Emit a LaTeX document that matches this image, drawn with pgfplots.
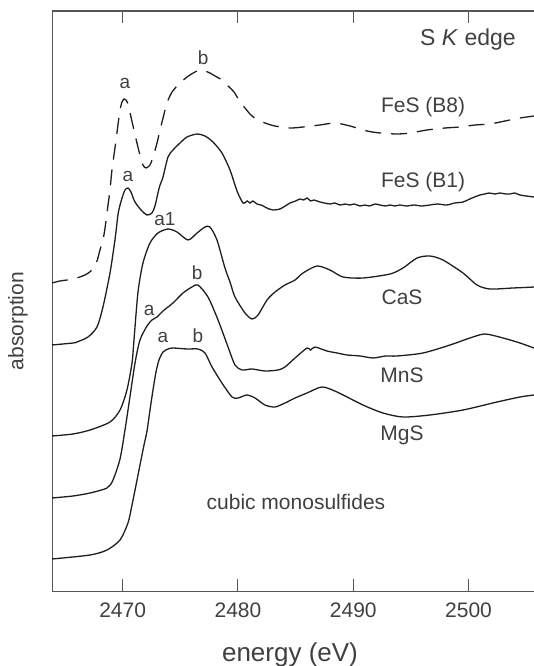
\documentclass[border=0pt]{standalone}
\usepackage{pgfplots}
\pgfplotsset{compat=1.18}
\usepackage{fontspec}
\setmainfont{Liberation Sans}
\definecolor{txt}{HTML}{404040}
\definecolor{crv}{HTML}{1E1E1E}
\definecolor{axc}{HTML}{555555}
\newcommand{\fs}[1]{\fontsize{#1}{#1}\selectfont}
\pgfplotsset{spec/.style={crv, line width=1.3bp, no marks, smooth, tension=0.45}}
\begin{document}
\begin{tikzpicture}
\path[use as bounding box] (0,0) rectangle (534bp,666bp);
\begin{axis}[
  at={(52bp,75bp)}, anchor=south west,
  scale only axis, width=490bp, height=580bp,
  xmin=2463.87, xmax=2506.37, ymin=0, ymax=580,
  axis line style={draw=axc, line width=1bp},
  xtick={2470,2480,2490,2500},
  xticklabels={2470,2480,2490,2500},
  ytick=\empty,
  tick align=inside, major tick length=12bp,
  tick style={draw=axc, line width=1bp},
  xticklabel style={font=\fs{21bp}, text=txt, yshift=-8bp},
  xlabel={energy (eV)},
  xlabel style={font=\fs{26bp}, text=txt, at={(axis description cs:0.4857,-0.1103)}, anchor=center},
  ylabel={absorption},
  ylabel style={font=\fs{21bp}, text=txt, at={(axis description cs:-0.0694,0.4655)}, anchor=center},
  clip=false,
]
% FeS (B8)
\addplot[spec, dash pattern=on 16bp off 10bp] coordinates {
(2463.87,308) (2464.56,310) (2465.69,312) (2466.73,316) (2467.34,321) (2467.77,330)
(2468.03,341) (2468.29,351) (2468.47,363) (2468.73,386) (2468.90,401) (2469.07,421)
(2469.33,443) (2469.59,466) (2469.77,481) (2469.94,489) (2470.12,492) (2470.29,491)
(2470.46,487) (2470.72,474) (2470.98,461) (2471.24,448) (2471.50,436) (2471.76,426)
(2472.02,423) (2472.37,426) (2472.63,434) (2472.98,448) (2473.24,461) (2473.50,473)
(2473.84,488) (2474.28,499) (2474.80,506) (2475.58,514) (2476.27,519) (2476.71,521)
(2477.14,520) (2477.57,518) (2478.01,515) (2478.61,511) (2479.14,505) (2479.66,499)
(2480.18,489) (2480.61,483) (2481.04,477) (2481.56,472) (2482.34,468) (2483.21,465)
(2484.51,463) (2485.64,464) (2487.11,466) (2488.42,468) (2489.72,465) (2491.19,460)
(2492.32,458) (2493.79,457) (2494.92,458) (2496.39,461) (2497.96,463) (2499.26,464)
(2500.56,466) (2501.86,467) (2503.16,470) (2504.46,473) (2505.67,475) (2506.37,476)
};
% FeS (B1)
\addplot[spec] coordinates {
(2463.87,246) (2465.69,248) (2466.04,249) (2466.99,254) (2467.77,264) (2468.29,284)
(2468.90,318) (2469.33,351) (2469.59,376) (2469.77,386) (2470.03,396) (2470.20,401)
(2470.46,403) (2470.72,399) (2470.98,391) (2471.24,386) (2471.68,380) (2472.11,376)
(2472.54,378) (2472.80,385) (2473.06,398) (2473.24,406) (2473.50,414) (2473.93,434)
(2474.36,441) (2474.97,448) (2475.58,454) (2476.45,457) (2477.14,455) (2477.83,449)
(2478.61,438) (2479.31,421) (2479.92,400) (2480.44,388) (2480.80,390) (2481.04,388)
(2481.30,390) (2481.65,387) (2482.00,386) (2482.34,384) (2482.70,382) (2483.04,381)
(2483.64,382) (2484.10,385) (2484.51,388) (2485.00,390) (2485.38,392) (2485.70,391)
(2485.99,393) (2486.30,390) (2486.60,391) (2487.11,389) (2487.50,388) (2488.00,387)
(2488.40,388) (2488.85,386) (2489.30,387) (2489.70,386) (2490.10,387) (2490.58,385)
(2491.00,386) (2491.40,385) (2491.90,387) (2492.32,386) (2492.80,385) (2493.20,386)
(2493.60,385) (2494.05,386) (2494.60,385) (2495.30,386) (2495.90,385) (2496.65,386)
(2497.30,387) (2498.10,386) (2498.80,388) (2499.52,389) (2500.30,393) (2500.99,396)
(2501.40,397) (2501.80,398) (2502.30,397) (2502.73,398) (2503.20,397) (2503.60,397)
(2504.00,398) (2504.46,396) (2505.00,395) (2505.67,394) (2506.37,393)
};
% CaS
\addplot[spec] coordinates {
(2463.87,155) (2465.69,157) (2467.17,161) (2468.90,169) (2469.77,181) (2470.37,201)
(2470.81,228) (2470.98,251) (2471.33,299) (2471.76,328) (2472.37,348) (2473.06,358)
(2473.93,362) (2474.71,359) (2475.67,351) (2476.45,358) (2477.14,364) (2477.57,364)
(2478.18,351) (2478.87,323) (2479.31,309) (2479.74,294) (2480.61,278) (2481.22,272)
(2481.74,276) (2482.52,291) (2483.21,299) (2484.08,306) (2484.95,311) (2485.64,318)
(2486.85,325) (2487.98,321) (2489.11,314) (2490.84,313) (2493.19,317) (2494.31,323)
(2495.53,333) (2496.65,335) (2497.78,331) (2499.52,318) (2500.73,306) (2501.86,302)
(2503.85,303) (2505.67,304) (2506.37,305)
};
% MnS
\addplot[spec] coordinates {
(2463.87,93) (2465.69,95) (2467.17,98) (2468.64,103) (2469.16,111) (2469.77,132)
(2470.20,161) (2470.63,194) (2471.07,228) (2471.50,251) (2472.11,265) (2472.54,271)
(2472.98,274) (2473.50,280) (2474.36,288) (2475.23,298) (2476.01,304) (2476.53,306)
(2477.40,294) (2478.27,271) (2479.14,244) (2479.74,226) (2480.35,221) (2481.22,222)
(2482.34,220) (2483.47,221) (2484.08,224) (2484.95,233) (2485.99,243) (2486.30,241)
(2486.68,244) (2487.72,240) (2488.60,238) (2489.46,236) (2490.60,235) (2491.71,233)
(2492.80,235) (2493.79,235) (2496.05,238) (2498.39,246) (2500.12,253) (2501.42,257)
(2502.99,253) (2504.46,248) (2505.67,243) (2506.37,240)
};
% MgS
\addplot[spec] coordinates {
(2463.87,32) (2467.17,36) (2468.64,41) (2469.77,51) (2470.46,68) (2470.81,86)
(2471.16,106) (2471.50,126) (2471.85,146) (2472.11,160) (2472.37,181) (2472.63,201)
(2472.89,219) (2473.15,231) (2473.50,239) (2473.93,242) (2474.36,243) (2475.58,242)
(2476.53,242) (2477.14,238) (2477.75,224) (2478.61,208) (2479.48,194) (2480.00,193)
(2480.78,196) (2481.48,193) (2482.34,186) (2483.21,184) (2484.08,188) (2484.95,193)
(2485.99,198) (2487.29,204) (2488.59,199) (2490.84,186) (2492.58,178) (2494.31,174)
(2496.65,176) (2499.52,181) (2502.47,189) (2504.46,194) (2505.67,196) (2506.37,197)
};
% top axis line and ticks
\draw[axc, line width=1.2bp] (rel axis cs:0,1) -- (rel axis cs:1,1);
\draw[axc, line width=1bp] (axis cs:2470,580) -- (axis cs:2470,568);
\draw[axc, line width=1bp] (axis cs:2480,580) -- (axis cs:2480,568);
\draw[axc, line width=1bp] (axis cs:2490,580) -- (axis cs:2490,568);
\draw[axc, line width=1bp] (axis cs:2500,580) -- (axis cs:2500,568);
% peak labels
\begin{scope}[every node/.style={font=\fs{19bp}, text=txt, inner sep=0pt}]
\node at (axis cs:2470.20,508) {a};
\node at (axis cs:2476.97,533) {b};
\node at (axis cs:2470.46,415) {a};
\node at (axis cs:2473.67,372) {a1};
\node at (axis cs:2472.30,281) {a};
\node at (axis cs:2476.45,318) {b};
\node at (axis cs:2473.50,254) {a};
\node at (axis cs:2476.53,255) {b};
\end{scope}
\begin{scope}[every node/.style={font=\fs{21bp}, text=txt, inner sep=0pt}]
\node at (axis cs:2496.05,484) {FeS (B8)};
\node at (axis cs:2496.05,409) {FeS (B1)};
\node at (axis cs:2494.23,294) {CaS};
\node at (axis cs:2494.23,216) {MnS};
\node at (axis cs:2494.23,156) {MgS};
\node at (axis cs:2485.03,89) {cubic monosulfides};
\node[font=\fs{23bp}] at (axis cs:2499.95,551) {S \textit{K} edge};
\end{scope}
\end{axis}
\end{tikzpicture}
\end{document}
